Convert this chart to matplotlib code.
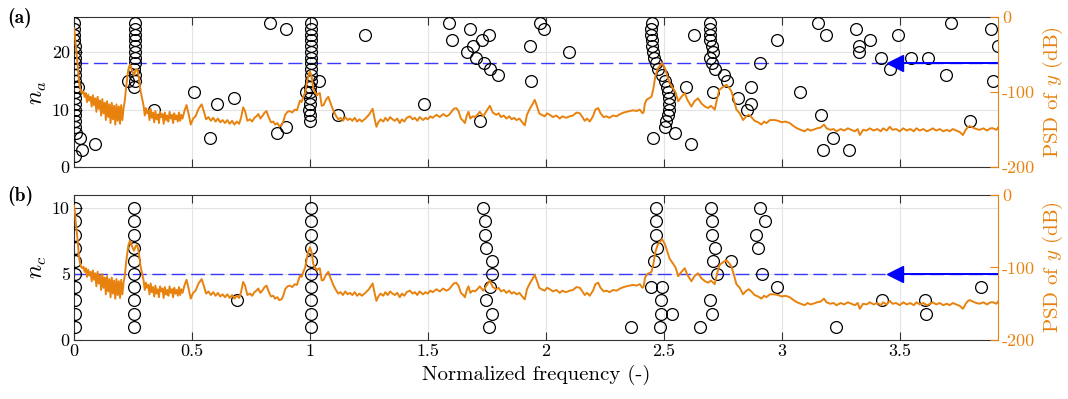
import matplotlib.pyplot as plt
import numpy as np

plt.rcParams['font.family'] = 'cmr10'
plt.rcParams['mathtext.fontset'] = 'cm'
plt.rcParams['axes.unicode_minus'] = False

ORANGE = '#E8820E'

# ------------------------------------------------------------
# stabilization points, panel (a): frequency, order n_a
# ------------------------------------------------------------
na_freq = [
    0.002, 0.002, 0.002, 0.002, 0.003, 0.003, 0.003, 0.004, 0.004, 0.004,
    0.003, 0.005, 0.006, 0.006, 0.006, 0.006, 0.005, 0.005, 0.006, 0.007,
    0.018, 0.025, 0.032, 0.006, 0.088,
    0.257, 0.257, 0.257, 0.258, 0.258, 0.258, 0.257, 0.257, 0.256, 0.257, 0.258, 0.256,
    0.227,
    0.340, 0.507, 0.575, 0.607, 0.680, 0.832, 0.900, 0.862, 0.898,
    1.003, 1.003, 1.003, 1.003, 1.003, 1.003, 1.003, 1.004, 1.004, 1.003,
    1.003, 1.002, 1.001, 1.000, 0.999, 0.998, 0.999, 1.000,
    1.040, 0.982,
    1.117, 1.233, 1.482, 1.722,
    1.590, 1.678, 1.603, 1.758, 1.731, 1.692, 1.664, 1.703, 1.737, 1.763, 1.798,
    1.932, 1.939, 1.975, 1.992, 2.098,
    2.451, 2.447, 2.447, 2.449, 2.451, 2.453, 2.459, 2.466, 2.476, 2.494,
    2.504, 2.512, 2.518, 2.522, 2.524, 2.524, 2.518, 2.511, 2.504,
    2.547, 2.455, 2.617, 2.596, 2.627,
    2.695, 2.695, 2.695, 2.698, 2.703, 2.708, 2.698, 2.705, 2.716, 2.754, 2.766, 2.709,
    2.815, 2.869, 2.869, 2.851, 2.907, 2.980, 3.079, 3.154, 3.189, 3.168,
    3.218, 3.175, 3.284, 3.316, 3.327, 3.327, 3.373, 3.422, 3.458, 3.493,
    3.549, 3.620, 3.698, 3.719, 3.800, 3.888, 3.917, 3.895,
]
na_order = [
    25, 24, 23, 22, 21, 20, 19, 18, 17, 16,
    15, 14, 13, 12, 11, 10, 9, 8, 7, 6,
    14, 5, 3, 2, 4,
    25, 24, 23, 22, 21, 20, 19, 18, 17, 16, 15, 14,
    15,
    10, 13, 5, 11, 12, 25, 24, 6, 7,
    25, 24, 23, 22, 21, 20, 19, 18, 17, 16,
    15, 14, 13, 12, 11, 10, 9, 8,
    15, 13,
    9, 23, 11, 8,
    25, 24, 22, 23, 22, 21, 20, 19, 18, 17, 16,
    21, 15, 25, 24, 20,
    25, 24, 23, 22, 21, 20, 19, 18, 17, 16,
    15, 14, 13, 12, 11, 10, 9, 8, 7,
    6, 5, 4, 14, 23,
    25, 24, 23, 22, 21, 20, 19, 18, 17, 16, 15, 13,
    12, 14, 11, 10, 18, 22, 13, 25, 23, 9,
    5, 3, 3, 24, 21, 20, 22, 19, 17, 23,
    19, 19, 16, 25, 8, 24, 21, 15,
]

# ------------------------------------------------------------
# stabilization points, panel (b): frequency, order n_c
# ------------------------------------------------------------
nc_freq = [
    0.004, 0.004, 0.004, 0.004, 0.004, 0.004, 0.004, 0.004, 0.004, 0.004,
    0.256, 0.256, 0.256, 0.256, 0.256, 0.256, 0.256, 0.256, 0.256, 0.256,
    0.693,
    1.003, 1.003, 1.003, 1.003, 1.003, 1.003, 1.003, 1.003, 1.003, 1.003,
    1.734, 1.742, 1.742, 1.746, 1.770, 1.772, 1.763, 1.748, 1.772, 1.760,
    2.360,
    2.469, 2.469, 2.469, 2.472, 2.458, 2.445, 2.493, 2.490, 2.490, 2.537, 2.483,
    2.653,
    2.702, 2.706, 2.706, 2.716, 2.709, 2.726, 2.695, 2.706,
    2.787, 2.907, 2.928, 2.893, 2.900, 2.917, 2.980, 3.232, 3.427, 3.606, 3.613, 3.846,
]
nc_order = [
    10, 9, 8, 7, 6, 5, 4, 3, 2, 1,
    10, 9, 8, 7, 6, 5, 4, 3, 2, 1,
    3,
    10, 9, 8, 7, 6, 5, 4, 3, 2, 1,
    10, 9, 8, 7, 6, 5, 4, 3, 2, 1,
    1,
    10, 9, 8, 7, 6, 4, 4, 3, 2, 2, 1,
    1,
    10, 9, 8, 7, 6, 5, 3, 2,
    6, 10, 9, 8, 7, 5, 4, 1, 3, 3, 2, 4,
]

# ------------------------------------------------------------
# PSD of y (dB)
# ------------------------------------------------------------
psd_freq = [
    0.000, 0.004, 0.008, 0.012, 0.016, 0.020, 0.025, 0.030, 0.035,
    0.040, 0.045, 0.050, 0.055, 0.060, 0.065, 0.070, 0.075, 0.080, 0.085,
    0.090, 0.095, 0.100, 0.105, 0.110, 0.115, 0.120, 0.125, 0.130, 0.135,
    0.140, 0.145, 0.150, 0.155, 0.160, 0.165, 0.170, 0.175, 0.180, 0.185,
    0.190, 0.195, 0.200, 0.205, 0.210,
    0.215, 0.222, 0.230, 0.237, 0.245, 0.254, 0.262, 0.268, 0.275, 0.282, 0.290,
    0.295, 0.300, 0.305, 0.310, 0.315, 0.320, 0.325, 0.330, 0.335, 0.340,
    0.345, 0.350, 0.355, 0.360, 0.365, 0.370, 0.375, 0.380, 0.385, 0.390,
    0.395, 0.400, 0.405, 0.410, 0.415, 0.420, 0.425, 0.430, 0.435, 0.440,
    0.445, 0.450, 0.455, 0.460,
    0.468, 0.477, 0.485, 0.495, 0.505, 0.515, 0.528, 0.541, 0.550, 0.560,
    0.570, 0.580, 0.590, 0.600, 0.610, 0.620, 0.630, 0.640, 0.650, 0.660,
    0.670, 0.680, 0.690, 0.700, 0.708, 0.717, 0.725, 0.735, 0.746, 0.755,
    0.765, 0.773, 0.781, 0.790, 0.800, 0.808, 0.816, 0.825, 0.835, 0.845,
    0.852, 0.862, 0.870, 0.880, 0.888, 0.895, 0.905, 0.915, 0.925, 0.936,
    0.945, 0.952, 0.958, 0.965, 0.972, 0.980, 0.990, 1.000, 1.008, 1.014,
    1.022, 1.030, 1.035, 1.042, 1.050, 1.058, 1.068, 1.078, 1.088, 1.099,
    1.110, 1.120, 1.130, 1.140, 1.150, 1.160, 1.170, 1.180, 1.190, 1.200,
    1.210, 1.220, 1.235, 1.250, 1.258, 1.266, 1.274, 1.282, 1.290, 1.300,
    1.311, 1.320, 1.330, 1.340, 1.350, 1.360, 1.370, 1.381, 1.390, 1.400,
    1.410, 1.424, 1.435, 1.445, 1.455, 1.465, 1.480, 1.490, 1.500, 1.510,
    1.520, 1.537, 1.550, 1.565, 1.579, 1.590, 1.600, 1.610, 1.620, 1.630,
    1.640, 1.650, 1.657, 1.665, 1.672, 1.680, 1.690, 1.700, 1.710, 1.720,
    1.735, 1.750, 1.763, 1.775, 1.790, 1.800, 1.810, 1.822, 1.833, 1.845,
    1.855, 1.865, 1.876, 1.888, 1.900, 1.911, 1.920, 1.932, 1.945, 1.953,
    1.962, 1.972, 1.982, 1.995, 2.005, 2.017, 2.030, 2.045, 2.059, 2.070,
    2.085, 2.102, 2.115, 2.130, 2.144, 2.155, 2.165, 2.175, 2.186, 2.200,
    2.210, 2.222, 2.232, 2.245, 2.257, 2.270, 2.285, 2.300, 2.315, 2.330,
    2.342, 2.355, 2.370, 2.385, 2.398, 2.410, 2.415, 2.420, 2.427, 2.437,
    2.448, 2.456, 2.464, 2.475, 2.493, 2.505, 2.515, 2.525, 2.540, 2.550,
    2.561, 2.575, 2.589, 2.600, 2.617, 2.630, 2.645, 2.660, 2.675, 2.688,
    2.700, 2.716, 2.725, 2.735, 2.750, 2.766, 2.777, 2.787, 2.797, 2.808,
    2.822, 2.836, 2.850, 2.860, 2.871, 2.885, 2.900, 2.914, 2.925, 2.935,
    2.950, 2.970, 2.985, 3.000, 3.015, 3.034, 3.050, 3.065, 3.080, 3.097,
    3.110, 3.122, 3.133, 3.150, 3.165, 3.179, 3.190, 3.205, 3.220, 3.232,
    3.250, 3.265, 3.280, 3.295, 3.310, 3.322, 3.331, 3.345, 3.360, 3.373,
    3.390, 3.405, 3.420, 3.430, 3.445, 3.458, 3.470, 3.485, 3.500, 3.515,
    3.530, 3.545, 3.560, 3.571, 3.585, 3.600, 3.615, 3.630, 3.640, 3.655,
    3.670, 3.685, 3.700, 3.712, 3.725, 3.740, 3.755, 3.768, 3.780, 3.790,
    3.797, 3.810, 3.825, 3.839, 3.855, 3.870, 3.885, 3.896, 3.910, 3.917,
]
psd_db = [
    -15, -25, -40, -52, -65, -82, -93, -99, -101,
    -99, -106, -101, -113, -103, -111, -106, -119, -104, -117,
    -108, -126, -106, -122, -111, -131, -109, -128, -114, -137,
    -112, -133, -116, -141, -114, -136, -118, -143, -116, -138,
    -119, -142, -117, -137, -121,
    -112, -90, -70, -63, -70, -77, -70, -69, -80, -98, -110,
    -118, -131, -121, -128, -124, -137, -122, -134, -127, -140,
    -125, -136, -130, -141, -126, -133, -129, -142, -127, -137,
    -131, -139, -126, -135, -130, -141, -128, -136, -131, -139,
    -127, -138, -130, -135,
    -125, -117, -128, -143, -135, -132, -122, -116, -125, -136,
    -133, -138, -134, -139, -135, -140, -137, -141, -137, -142,
    -138, -143, -139, -142, -134, -120, -125, -138, -136, -139,
    -134, -132, -129, -135, -131, -127, -125, -133, -140, -139,
    -143, -141, -145, -144, -138, -130, -126, -125, -127, -123,
    -124, -117, -111, -113, -106, -100, -82, -72, -80, -95,
    -100, -104, -102, -101, -118, -117, -110, -106, -115, -124,
    -131, -136, -134, -138, -133, -137, -135, -138, -134, -139,
    -136, -139, -135, -130, -126, -122, -135, -146, -140, -136,
    -139, -134, -138, -133, -136, -138, -135, -141, -136, -139,
    -134, -132, -136, -134, -138, -133, -137, -134, -136, -132,
    -134, -130, -133, -129, -132, -130, -126, -122, -121, -125,
    -135, -138, -141, -131, -126, -135, -132, -133, -130, -126,
    -132, -124, -118, -127, -130, -128, -133, -131, -135, -132,
    -136, -134, -137, -135, -140, -144, -130, -122, -115, -110,
    -118, -128, -130, -132, -128, -130, -133, -131, -135, -132,
    -134, -132, -131, -127, -128, -133, -138, -135, -139, -132,
    -123, -121, -128, -133, -132, -134, -131, -132, -129, -127,
    -126, -125, -124, -125, -123, -128, -126, -115, -110, -108,
    -106, -95, -79, -68, -61, -68, -78, -88, -95, -100,
    -112, -106, -101, -110, -119, -112, -108, -115, -119, -121,
    -118, -123, -110, -97, -93, -90, -94, -99, -110, -123,
    -128, -137, -132, -130, -133, -138, -140, -143, -139, -141,
    -137, -137, -138, -140, -139, -141, -145, -148, -150, -152,
    -149, -151, -150, -148, -147, -143, -148, -150, -149, -152,
    -149, -151, -148, -150, -152, -149, -157, -150, -151, -148,
    -151, -149, -152, -148, -151, -146, -150, -149, -152, -148,
    -151, -149, -152, -148, -151, -149, -152, -150, -148, -151,
    -149, -152, -150, -152, -149, -151, -153, -157, -150, -146,
    -145, -147, -149, -150, -148, -151, -148, -148, -150, -147,
]

# threshold lines (order) and arrow start frequency
thresholds = [18, 5]
arrow_freq = 3.48
x_max = 3.917

panel_labels = ['(a)', '(b)']
order_labels = ['$n_a$', '$n_c$']
order_ylims = [(0, 26), (0, 11)]
order_ticks = [[0, 10, 20], [0, 5, 10]]
freq_ticks = [0, 0.5, 1, 1.5, 2, 2.5, 3, 3.5]
freq_ticklabels = ['0', '0.5', '1', '1.5', '2', '2.5', '3', '3.5']
psd_ticks = [0, -100, -200]
psd_ticklabels = ['0', '-100', '-200']


def draw_panel(ax, freq, order, thr, idx):
    ax.plot(freq, order, 'o', mfc='none', mec='black', ms=8.5, mew=0.9,
            zorder=3)
    ax.axhline(thr, color='#3a3aff', lw=1.0, ls=(0, (10, 4)), zorder=2)
    ax.plot([arrow_freq, x_max], [thr, thr], color='blue', lw=1.4, zorder=4)
    ax.plot([arrow_freq], [thr], marker='<', ms=12, color='blue', zorder=5)

    ax.set_xlim(0, x_max)
    ax.set_ylim(*order_ylims[idx])
    ax.set_yticks(order_ticks[idx])
    ax.set_yticklabels([str(t) for t in order_ticks[idx]])
    ax.set_xticks(freq_ticks)
    ax.grid(True, color='#e3e3e3', lw=0.8)
    ax.set_axisbelow(True)
    ax.tick_params(direction='in', length=6, width=0.8, top=True,
                   labelsize=13, color='#333333', pad=3)
    for s in ['left', 'top', 'bottom']:
        ax.spines[s].set_color('#333333')
        ax.spines[s].set_linewidth(0.8)
    ax.spines['right'].set_visible(False)
    ax.set_ylabel(order_labels[idx], fontsize=17, labelpad=2)

    tw = ax.twinx()
    tw.plot(psd_freq, psd_db, color=ORANGE, lw=1.4)
    tw.set_ylim(-200, 0)
    tw.set_yticks(psd_ticks)
    tw.set_yticklabels(psd_ticklabels)
    tw.tick_params(axis='y', direction='in', length=6, width=0.8,
                   colors=ORANGE, labelsize=13, pad=3)
    tw.spines['right'].set_color(ORANGE)
    tw.spines['right'].set_linewidth(0.8)
    for s in ['left', 'top', 'bottom']:
        tw.spines[s].set_visible(False)
    tw.set_ylabel('PSD of $y$ (dB)', color=ORANGE, fontsize=15, labelpad=4)
    return tw


fig = plt.figure(figsize=(10.68, 3.99), dpi=100)
ax_a = fig.add_axes([0.0693, 0.5807, 0.8652, 0.3759])
ax_b = fig.add_axes([0.0693, 0.1479, 0.8652, 0.3634])

draw_panel(ax_a, na_freq, na_order, thresholds[0], 0)
draw_panel(ax_b, nc_freq, nc_order, thresholds[1], 1)

ax_a.set_xticklabels([])
ax_b.set_xticklabels(freq_ticklabels)
ax_b.set_xlabel('Normalized frequency (-)', fontsize=15, labelpad=4)

fig.text(0.007, 0.955, panel_labels[0], fontfamily='cmb10', fontsize=14,
         ha='left', va='center')
fig.text(0.007, 0.509, panel_labels[1], fontfamily='cmb10', fontsize=14,
         ha='left', va='center')

fig.savefig('out.png', dpi=100)
